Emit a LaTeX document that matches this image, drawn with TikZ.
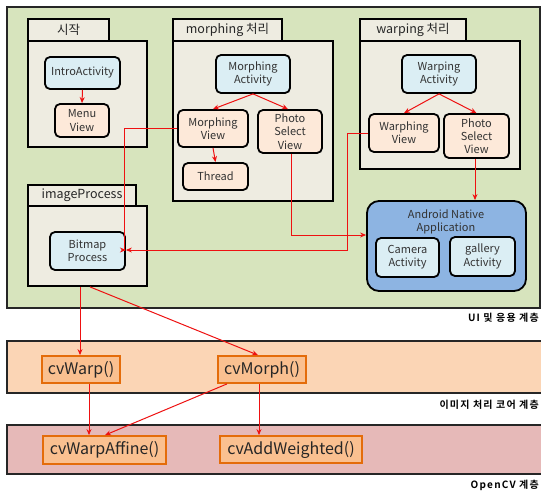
\documentclass[tikz,border=0pt]{standalone}
\usepackage{fontspec}
\setmainfont{Noto Sans CJK KR}
\newfontfamily\layerfont[LetterSpace=12, BoldFont={Noto Sans CJK KR Bold}]{Noto Sans CJK KR}
\usetikzlibrary{arrows.meta}
\definecolor{uigreen}{HTML}{D7E4BD}
\definecolor{pkgfill}{HTML}{EEECE1}
\definecolor{actblue}{HTML}{DBEEF4}
\definecolor{viewpeach}{HTML}{FDE9D9}
\definecolor{nativeblue}{HTML}{8DB4E2}
\definecolor{coreband}{HTML}{FBD5B5}
\definecolor{cvband}{HTML}{E6B9B8}
\definecolor{fnfill}{HTML}{FAC090}
\definecolor{fnline}{HTML}{E46C0A}
\definecolor{linkred}{HTML}{EE1111}
\definecolor{txt}{HTML}{333333}
\tikzset{
  layer/.style={draw=black!85, line width=1.6pt},
  pkg/.style={draw=black, line width=1.8pt, fill=pkgfill},
  boxfont/.style={font=\fontsize{11}{13.3}\selectfont, text=txt},
  act/.style={draw=black, line width=1.8pt, fill=actblue, rounded corners=5pt,
    align=center, boxfont},
  view/.style={draw=black, line width=1.8pt, fill=viewpeach, rounded corners=5pt,
    align=center, boxfont},
  native/.style={draw=black, line width=1.8pt, fill=nativeblue, rounded corners=12pt},
  fn/.style={draw=fnline, line width=1.8pt, fill=fnfill, font=\fontsize{16}{18}\selectfont, text=black!85},
  tabtext/.style={font=\fontsize{12.5}{14}\selectfont, text=black!85},
  layerlabel/.style={font=\layerfont\bfseries\fontsize{10}{12}\selectfont, anchor=east, inner sep=0pt},
  link/.style={draw=linkred, line width=1pt, -{Stealth[length=6pt,width=5pt]}},
}
% box placed by its corners: name, style, x1, y1, x2, y2, text
\newcommand\placebox[7]{%
  \pgfmathsetmacro\bxw{#5-#3}\pgfmathsetmacro\bxh{#6-#4}%
  \node[#2, minimum width=\bxw pt, minimum height=\bxh pt, inner sep=0pt]
    (#1) at ({(#3+#5)/2},{(#4+#6)/2}) {#7};}
\begin{document}
\begin{tikzpicture}[x=1pt,y=-1pt]
\useasboundingbox (0,0) rectangle (541,493);
\fill[white] (0,0) rectangle (541,493);

% ---- layers ----
\placebox{uilayer}{layer, fill=uigreen}{7}{7}{540}{308}{}
\draw[layer, fill=coreband] (550,341) -- (7,341) -- (7,393) -- (550,393);
\draw[layer, fill=cvband] (550,425) -- (7,425) -- (7,474) -- (550,474);
\node[layerlabel] (uilabel) at (539,318) {UI 및 응용 계층};
\node[layerlabel] (corelabel) at (539,405) {이미지 처리 코어 계층};
\node[layerlabel] (cvlabel) at (539,485) {OpenCV 계층};

% ---- packages ----
\placebox{starttab}{pkg}{28}{19}{109}{41}{}
\placebox{startbody}{pkg}{28}{41}{147}{147}{}
\node[tabtext] at (starttab.center) {시작};

\placebox{morphtab}{pkg}{173}{19}{282}{41}{}
\placebox{morphbody}{pkg}{173}{41}{333}{201}{}
\node[tabtext] at (morphtab.center) {morphing 처리};

\placebox{warptab}{pkg}{360}{19}{466}{41}{}
\placebox{warpbody}{pkg}{360}{41}{520}{169}{}
\node[tabtext] at (warptab.center) {warping 처리};

\placebox{imgtab}{pkg}{28}{185}{136}{206}{}
\placebox{imgbody}{pkg}{28}{206}{147}{286}{}
\node[tabtext] at (imgtab.center) {imageProcess};

% ---- activities and views ----
\placebox{intro}{act}{45}{57}{120}{89}{IntroActivity}
\placebox{menu}{view}{55}{104}{109}{137}{Menu\\View}

\placebox{morphact}{act}{216}{55}{290}{93}{Morphing\\Activity}
\placebox{morphview}{view}{178}{110}{248}{147}{Morphing\\View}
\placebox{morphphoto}{view}{258}{110}{322}{153}{Photo\\Select\\View}
\placebox{thread}{view}{183}{163}{248}{190}{Thread}

\placebox{warpact}{act}{402}{55}{476}{93}{Warping\\Activity}
\placebox{warpview}{view}{369}{114}{439}{152}{Warphing\\View}
\placebox{warpphoto}{view}{444}{114}{509}{158}{Photo\\Select\\View}

\placebox{bitmap}{act}{50}{232}{125}{270}{Bitmap\\Process}

\placebox{nativeapp}{native}{367}{201}{526}{291}{}
\node[align=center, boxfont] (nativetitle)
  at (446,222) {Android Native\\Application};
\placebox{camera}{act}{376}{238}{439}{277}{Camera\\Activity}
\placebox{gallery}{act}{450}{237}{515}{276}{gallery\\Activity}

% ---- core and OpenCV functions ----
\placebox{cvwarp}{fn}{42}{356}{120}{383}{cvWarp()}
\placebox{cvmorph}{fn}{218}{356}{306}{383}{cvMorph()}
\placebox{cvaffine}{fn}{43}{436}{166}{464}{cvWarpAffine()}
\placebox{cvadd}{fn}{220}{436}{362}{463}{cvAddWeighted()}

% ---- links inside packages ----
\draw[link] (intro.south) -- (menu.north);
\draw[link] (morphact.south) -- (morphview.north);
\draw[link] (morphact.south) -- ([xshift=-2pt]morphphoto.north);
\draw[link] (morphview.south) -- (thread.north);
\draw[link] (warpact.south) -- (warpview.north);
\draw[link] (warpact.south) -- (warpphoto.north);

% ---- links to image processing and native application ----
\draw[link] (morphview.west |- 0,128) -- (124,128) -- (124,250) -- (bitmap.east |- 0,250);
\draw[link] (warpview.west |- 0,133) -- (347,133) -- (347,250) -- (bitmap.east |- 0,250);
\draw[link] (morphphoto.south -| 291,0) -- (291,235) -- (nativeapp.west |- 0,235);
\draw[link] (warpphoto.south -| 475,0) -- (nativeapp.north -| 475,0);

% ---- links down the layers ----
\draw[link] (imgbody.south -| 80,0) -- (cvwarp.north -| 80,0);
\draw[link] (imgbody.south -| 90,0) -- (cvmorph.north -| 258,0);
\draw[link] (cvwarp.south -| 89,0) -- (cvaffine.north -| 89,0);
\draw[link] (cvmorph.south -| 227,0) -- (cvaffine.north -| 105,0);
\draw[link] (cvmorph.south -| 259,0) -- (cvadd.north -| 259,0);
\end{tikzpicture}
\end{document}
